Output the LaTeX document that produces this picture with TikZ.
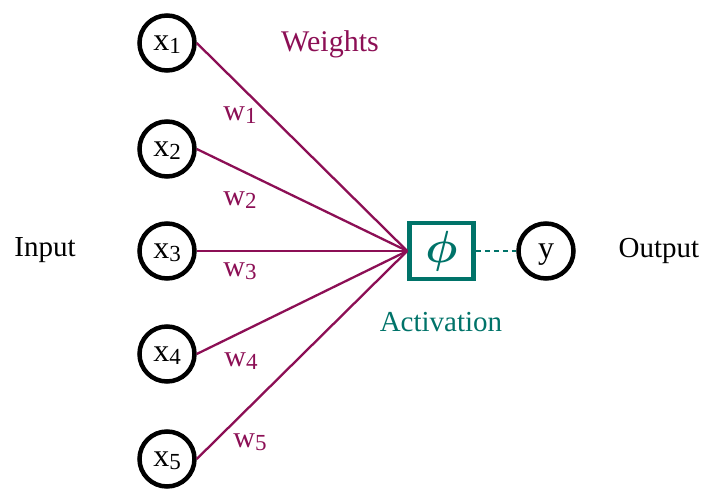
\documentclass[tikz,border=0pt]{standalone}
\usepackage{amsmath}
\usepackage{fontspec}
\usepackage{graphicx}
\setmainfont{Liberation Serif}
\definecolor{wcol}{RGB}{140,15,85}
\definecolor{acol}{RGB}{0,115,105}
\newcommand{\xs}[2]{#1\raisebox{-3pt}{\fontsize{23}{23}\selectfont #2}}
\begin{document}
\begin{tikzpicture}[x=1pt,y=-1pt,
  inp/.style={circle,draw=black,line width=4.5pt,minimum size=55pt,inner sep=0pt,text depth=0pt,font=\fontsize{32}{32}\selectfont},
  lbl/.style={font=\fontsize{29}{29}\selectfont},
  wl/.style={font=\fontsize{30}{30}\selectfont,text=wcol},
  wline/.style={draw=wcol,line width=2.3pt},
  act/.style={draw=acol,line width=4.5pt,minimum width=64pt,minimum height=56pt,inner sep=0pt,text=acol}]
\useasboundingbox (0,0) rectangle (702,489);
\node[inp] (x1) at (167,43) {\xs{x}{1}};
\node[inp] (x2) at (167,149) {\xs{x}{2}};
\node[inp] (x3) at (167,251) {\xs{x}{3}};
\node[inp] (x4) at (167,354) {\xs{x}{4}};
\node[inp] (x5) at (167,459) {\xs{x}{5}};
\node[act] (phi) at (441.5,251) {\scalebox{4.5}{$\boldsymbol{\phi}$}};
\node[inp] (y) at (546,251) {y};
\foreach \i in {1,...,5} {\draw[wline] (x\i.east) -- (phi.west);}
\draw[draw=acol,line width=2.5pt,dash pattern=on 5pt off 4pt] (phi.east) -- (y.west);
\node[wl] (wt) at (330,44) {Weights};
\node[wl] (w1) at (240,115) {\xs{w}{1}};
\node[wl] (w2) at (240,200) {\xs{w}{2}};
\node[wl] (w3) at (240,271) {\xs{w}{3}};
\node[wl] (w4) at (241,361) {\xs{w}{4}};
\node[wl] (w5) at (250,442) {\xs{w}{5}};
\node[lbl,text=acol] (actl) at (441,322) {Activation};
\node[lbl] (in) at (45,250) {Input};
\node[lbl] (out) at (659,251) {Output};
\end{tikzpicture}
\end{document}
